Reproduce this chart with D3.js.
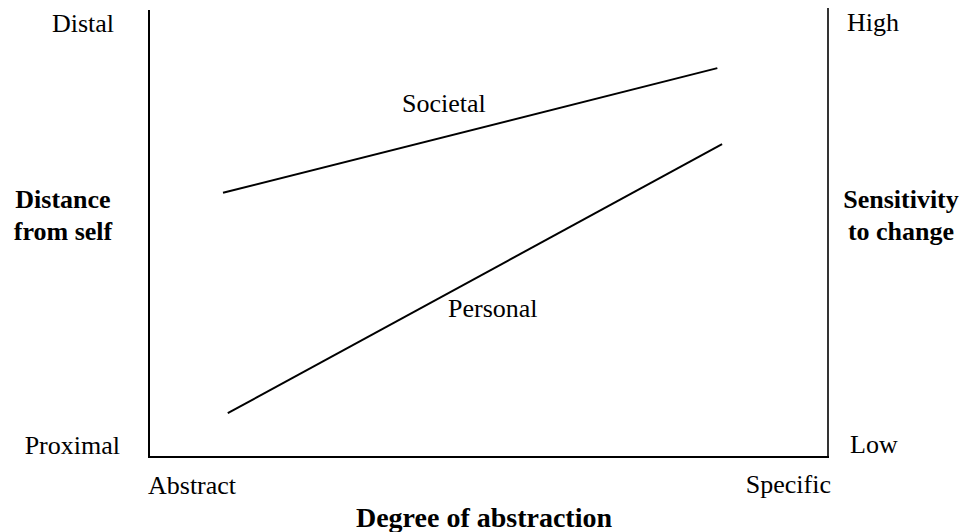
<!DOCTYPE html>
<html>
<head>
<meta charset="utf-8">
<script src="https://cdn.jsdelivr.net/npm/d3@7"></script>
<style>
  html, body { margin: 0; padding: 0; background: #fff; }
  svg { display: block; }
  text { font-family: "Liberation Serif", "Times New Roman", Times, serif; fill: #000; }
</style>
</head>
<body>
<svg id="chart" width="969" height="532"></svg>
<script>
// Data (x: 0 = Abstract, 100 = Specific; y: 0 = Proximal/Low, 100 = Distal/High)
const seriesNames = ["Societal", "Personal"];
const societalX = [10.9, 83.7];
const societalY = [59.1, 87.0];
const personalX = [11.6, 84.4];
const personalY = [9.8, 70.0];
const xTickLabels = ["Abstract", "Specific"];
const yLeftTickLabels = ["Proximal", "Distal"];
const yRightTickLabels = ["Low", "High"];
const xTitle = "Degree of abstraction";
const yLeftTitle = ["Distance", "from self"];
const yRightTitle = ["Sensitivity", "to change"];

const svg = d3.select("#chart");
const x = d3.scaleLinear().domain([0, 100]).range([149, 828]);
const y = d3.scaleLinear().domain([0, 100]).range([457, 10]);

// Axes (frame lines)
svg.append("line").attr("x1", x(0)).attr("x2", x(0)).attr("y1", y(100)).attr("y2", y(0) + 1)
  .attr("stroke", "#000").attr("stroke-width", 2);
svg.append("line").attr("x1", x(0)).attr("x2", x(100) + 1).attr("y1", y(0)).attr("y2", y(0))
  .attr("stroke", "#000").attr("stroke-width", 2.2);
svg.append("line").attr("x1", x(100)).attr("x2", x(100)).attr("y1", y(100) - 2).attr("y2", y(0))
  .attr("stroke", "#000").attr("stroke-width", 1.6);

// Series lines
const series = [
  { name: seriesNames[0], xs: societalX, ys: societalY, lx: 402, ly: 112 },
  { name: seriesNames[1], xs: personalX, ys: personalY, lx: 448, ly: 317 }
];
const line = d3.line().x(d => x(d[0])).y(d => y(d[1]));
series.forEach(s => {
  const pts = s.xs.map((v, i) => [v, s.ys[i]]);
  svg.append("path").attr("d", line(pts)).attr("fill", "none")
    .attr("stroke", "#000").attr("stroke-width", 2);
  svg.append("text").attr("x", s.lx).attr("y", s.ly).attr("font-size", 26).text(s.name);
});

// Tick labels
svg.append("text").attr("x", 114).attr("y", 32).attr("text-anchor", "end").attr("font-size", 26).text(yLeftTickLabels[1]);
svg.append("text").attr("x", 120).attr("y", 454).attr("text-anchor", "end").attr("font-size", 26).text(yLeftTickLabels[0]);
svg.append("text").attr("x", 847).attr("y", 31).attr("font-size", 26).text(yRightTickLabels[1]);
svg.append("text").attr("x", 850).attr("y", 453).attr("font-size", 26).text(yRightTickLabels[0]);
svg.append("text").attr("x", 148).attr("y", 494).attr("font-size", 26).text(xTickLabels[0]);
svg.append("text").attr("x", 831).attr("y", 493).attr("text-anchor", "end").attr("font-size", 26).text(xTickLabels[1]);

// Titles
svg.append("text").attr("x", 484).attr("y", 527).attr("text-anchor", "middle")
  .attr("font-size", 28).attr("font-weight", "bold").text(xTitle);
yLeftTitle.forEach((t, i) => {
  svg.append("text").attr("x", 63).attr("y", 208 + i * 32).attr("text-anchor", "middle")
    .attr("font-size", 26).attr("font-weight", "bold").text(t);
});
yRightTitle.forEach((t, i) => {
  svg.append("text").attr("x", 901).attr("y", 208 + i * 32).attr("text-anchor", "middle")
    .attr("font-size", 26).attr("font-weight", "bold").text(t);
});
</script>
</body>
</html>
